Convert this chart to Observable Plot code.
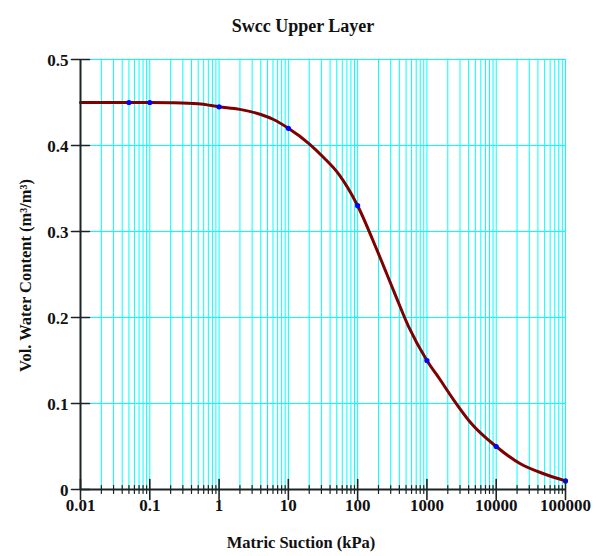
<!DOCTYPE html>
<html>
<head>
<meta charset="utf-8">
<script src="https://cdn.jsdelivr.net/npm/d3@7"></script>
<script src="https://cdn.jsdelivr.net/npm/@observablehq/plot@0.6"></script>
<style>
  html, body { margin: 0; padding: 0; background: #fff; }
</style>
</head>
<body>
<div id="chart"></div>
<script>
// Soil-water characteristic curve, upper layer
const curveSuction = [0.01, 0.05, 0.1, 0.2, 0.5, 1, 2, 4, 6, 10, 20, 32, 53, 100, 191, 331, 546, 1000, 1570, 2440, 4250, 10000, 22300, 48500, 100000];
const curveTheta   = [0.45, 0.45, 0.45, 0.4497, 0.4485, 0.445, 0.442, 0.436, 0.4305, 0.42, 0.402, 0.3864, 0.367, 0.33, 0.278, 0.231, 0.189, 0.15, 0.127, 0.104, 0.078, 0.05, 0.0299, 0.0183, 0.01];

// Measured points
const pointSuction = [0.05, 0.1, 1, 10, 100, 1000, 10000, 100000];
const pointTheta   = [0.45, 0.45, 0.445, 0.42, 0.33, 0.15, 0.05, 0.01];

// Axes
const xDecades = [0.01, 0.1, 1, 10, 100, 1000, 10000, 100000];
const xLabels  = ["0.01", "0.1", "1", "10", "100", "1000", "10000", "100000"];
const xMultipliers = [2, 3, 4, 5, 6, 7, 8, 9];
const yTicks  = [0, 0.1, 0.2, 0.3, 0.4, 0.5];
const yLabels = ["0", "0.1", "0.2", "0.3", "0.4", "0.5"];

const curve = curveSuction.map((s, i) => ({s, t: curveTheta[i]}));
const points = pointSuction.map((s, i) => ({s, t: pointTheta[i]}));
const xMinor = xDecades.slice(0, -1).flatMap(d => xMultipliers.map(m => +(d * m).toPrecision(6)));
const xGrid = [...xDecades.slice(1), ...xMinor];

const font = "Liberation Serif";
const ink = "#111";
const axisColor = "#1b2424";
const gridColor = "#00ffff";
const lineShape = {draw(context, l) { context.moveTo(0, 0); context.lineTo(0, -l); }};
const label = {fontFamily: font, fontWeight: "bold", fill: ink};

const chart = Plot.plot({
  width: 603,
  height: 556,
  marginLeft: 80,
  marginRight: 38,
  marginTop: 59,
  marginBottom: 67,
  style: {fontFamily: font, background: "#fff"},
  x: {type: "log", domain: [0.01, 100000], axis: null},
  y: {domain: [0, 0.5], axis: null},
  marks: [
    // grid
    Plot.ruleX(xGrid, {stroke: gridColor, strokeWidth: 1}),
    Plot.ruleY(yTicks.slice(1), {stroke: gridColor, strokeWidth: 1}),
    // curve and points
    Plot.line(curve, {x: "s", y: "t", stroke: "#800000", strokeWidth: 3, curve: "monotone-x"}),
    Plot.dot(points, {x: "s", y: "t", r: 2.6, fill: "#0000ff", stroke: "none"}),
    // axis lines
    Plot.ruleX([0.01], {stroke: axisColor, strokeWidth: 2}),
    Plot.ruleY([0], {stroke: axisColor, strokeWidth: 2}),
    // y ticks (both sides of the axis)
    Plot.vector(yTicks, {y: d => d, frameAnchor: "left", rotate: 90, length: 18, anchor: "middle", shape: lineShape, stroke: axisColor, strokeWidth: 1.6}),
    // x ticks: major and minor
    Plot.vector(xDecades, {x: d => d, frameAnchor: "bottom", length: 20, anchor: "middle", shape: lineShape, stroke: axisColor, strokeWidth: 1.6}),
    Plot.vector(xMinor, {x: d => d, frameAnchor: "bottom", length: 8, anchor: "middle", shape: lineShape, stroke: axisColor, strokeWidth: 1.2}),
    // tick labels
    Plot.text(yTicks, {y: d => d, text: (d, i) => yLabels[i], frameAnchor: "left", dx: -12, dy: 1, textAnchor: "end", fontSize: 17, ...label}),
    Plot.text(xDecades, {x: d => d, text: (d, i) => xLabels[i], frameAnchor: "bottom", dy: 21.5, textAnchor: "middle", fontSize: 17, letterSpacing: 0.3, ...label}),
    // titles
    Plot.text(["Swcc Upper Layer"], {frameAnchor: "top", textAnchor: "middle", dx: -20, dy: -40, fontSize: 18, letterSpacing: 0.5, ...label}),
    Plot.text(["Matric Suction (kPa)"], {frameAnchor: "bottom", textAnchor: "middle", dx: -22, dy: 58, fontSize: 16.5, letterSpacing: 0.8, ...label}),
    Plot.text(["Vol. Water Content (m\u00b3/m\u00b3)"], {frameAnchor: "left", textAnchor: "middle", dx: -55, dy: 1, rotate: -90, fontSize: 16.5, letterSpacing: 1.5, ...label})
  ]
});

document.getElementById("chart").appendChild(chart);
</script>
</body>
</html>
